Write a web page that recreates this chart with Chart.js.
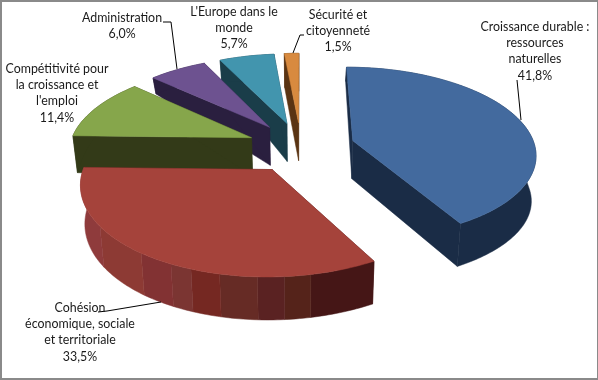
<!DOCTYPE html>
<html>
<head>
<meta charset="utf-8">
<script src="https://cdn.jsdelivr.net/npm/chart.js@4"></script>
<style>
  html, body { margin: 0; padding: 0; background: #fff; }
  canvas { display: block; }
</style>
</head>
<body>
<canvas id="myChart" width="598" height="380"></canvas>
<script>
const categories = ['Croissance durable : ressources naturelles', 'Cohésion économique, sociale et territoriale', 'Compétitivité pour la croissance et l\'emploi', 'Administration', 'L\'Europe dans le monde', 'Sécurité et citoyenneté'];
const values = [41.8, 33.5, 11.4, 6.0, 5.7, 1.5];
const labelLines = [
    ['Croissance durable :', 'ressources', 'naturelles'],
    ['Cohésion', 'économique, sociale', 'et territoriale'],
    ['Compétitivité pour', 'la croissance et', 'l\'emploi'],
    ['Administration'],
    ['L\'Europe dans le', 'monde'],
    ['Sécurité et', 'citoyenneté']
];
const topColors = ['#436a9e', '#a5433b', '#86a64b', '#6d5290', '#4295ae', '#d88a3f'];
const wallColors = ['#1a2c46', '#451616', '#333a18', '#2a1f3f', '#1a3d49', '#5a3413'];

// shaded bands on the front wall of the red slice: [angle up to, colour]
const redBands = [[169, '#451616'], [176, '#55231a'], [183, '#5a2222'], [193, '#662b25'], [201, '#752822'], [207, '#7b3532'], [216, '#823233'], [235, '#8d3a34'], [272, '#8f3b3c']];

// where the labels sit: centre x, y of first line
const labelPos = [[535, 27], [80, 308], [57, 69], [122, 18], [234, 12], [338, 15]];
const leaders = [
    [[517, 80], [521, 120]],
    [[98, 312], [107, 311], [161, 302]],
    [],
    [[163, 22], [171, 22], [177, 69]],
    [],
    [[304, 35], [300, 35], [293, 53]]
];

// perspective of the tilted pie
const tilt = 0.4616, persp = 0.14, explode = 0.297, squeezeX = 0.985;
const shiftX = 2, shiftY = -43;

function depth(u, v) {
    let d = 38;
    if (v > 0 && u < 0) d -= 44 * -u * v;
    if (v > 0 && u >= 0) d -= 24 * v;
    if (v < 0) d -= 5 * v;
    if (u > 0) d += 8 * u * (1 + v);
    return d;
}

function quad(ctx, pts, color) {
    ctx.fillStyle = color;
    ctx.strokeStyle = color;
    ctx.lineWidth = 0.5;
    ctx.beginPath();
    pts.forEach((p, i) => i ? ctx.lineTo(p[0], p[1]) : ctx.moveTo(p[0], p[1]));
    ctx.closePath();
    ctx.fill();
    ctx.stroke();
}

function drawSlice(ctx, arc, i) {
    const start = arc.startAngle + Math.PI / 2, end = arc.endAngle + Math.PI / 2;
    const mid = (start + end) / 2, rx = arc.outerRadius;
    const cx = arc.x + shiftX, cy = arc.y + shiftY;
    const at = (t, r, low) => {
        const u = Math.sin(t) * r, v = Math.cos(t) * r;
        const U = u + Math.sin(mid) * explode, V = v + Math.cos(mid) * explode;
        const f = 1 / (1 + persp * V);
        const x = U * rx * f * squeezeX, y = -V * rx * tilt * f;
        return low ? [cx + x * 0.98, cy + y + depth(u, v)] : [cx + x, cy + y];
    };
    const wall = wallColors[i];

    quad(ctx, [at(0, 0), at(start, 1), at(start, 1, true), at(0, 0, true)], wall);
    quad(ctx, [at(0, 0), at(end, 1), at(end, 1, true), at(0, 0, true)], wall);

    const steps = Math.max(4, Math.ceil((end - start) * 180 / Math.PI));
    const rim = [];
    for (let s = 0; s <= steps; s++) rim.push(start + (end - start) * s / steps);

    // one polygon per colour run, so no seams show between rim steps
    const colorAt = s => {
        if (i !== 1) return wall;
        const deg = (rim[s] + rim[s + 1]) / 2 * 180 / Math.PI;
        return redBands.find(b => deg <= b[0])[1];
    };
    let s = 0;
    while (s < steps) {
        const color = colorAt(s);
        let e = s + 1;
        while (e < steps && colorAt(e) === color) e++;
        const run = rim.slice(s, e + 1);
        quad(ctx, run.map(t => at(t, 1)).concat(run.slice().reverse().map(t => at(t, 1, true))), color);
        s = e;
    }
    quad(ctx, [at(0, 0)].concat(rim.map(t => at(t, 1))), topColors[i]);
}

const pie3d = {
    id: 'pie3d',
    beforeDatasetDraw(chart, args) {
        const ctx = chart.ctx;
        const arcs = args.meta.data;
        ctx.save();
        for (let i = arcs.length - 1; i >= 0; i--) drawSlice(ctx, arcs[i], i);
        ctx.restore();
        return false;
    },
    afterDraw(chart) {
        const ctx = chart.ctx;
        ctx.save();
        // leader lines
        ctx.strokeStyle = '#000';
        ctx.lineWidth = 1;
        leaders.forEach(l => {
            if (!l.length) return;
            ctx.beginPath();
            l.forEach((p, i) => i ? ctx.lineTo(p[0], p[1]) : ctx.moveTo(p[0], p[1]));
            ctx.stroke();
        });
        // labels
        ctx.fillStyle = '#1a1a1a';
        ctx.font = '12.4px Lato';
        ctx.textAlign = 'center';
        ctx.textBaseline = 'middle';
        labelLines.forEach((lines, i) => {
            const all = lines.concat(values[i].toFixed(1).replace('.', ',') + '%');
            all.forEach((t, n) => ctx.fillText(t, labelPos[i][0], labelPos[i][1] + n * 16.2));
        });
        // frame
        ctx.fillStyle = '#8a8a8a';
        ctx.fillRect(0, 0, 598, 2);
        ctx.fillRect(0, 378, 598, 2);
        ctx.fillRect(0, 0, 2, 380);
        ctx.fillRect(597, 0, 1, 380);
        ctx.restore();
    }
};

new Chart(document.getElementById('myChart'), {
    type: 'pie',
    data: {
        labels: categories,
        datasets: [{
            data: values,
            backgroundColor: topColors,
            borderWidth: 0
        }]
    },
    options: {
        responsive: false,
        animation: false,
        layout: { padding: 5 },
        plugins: {
            legend: { display: false },
            tooltip: { enabled: false }
        }
    },
    plugins: [pie3d]
});
</script>
</body>
</html>
